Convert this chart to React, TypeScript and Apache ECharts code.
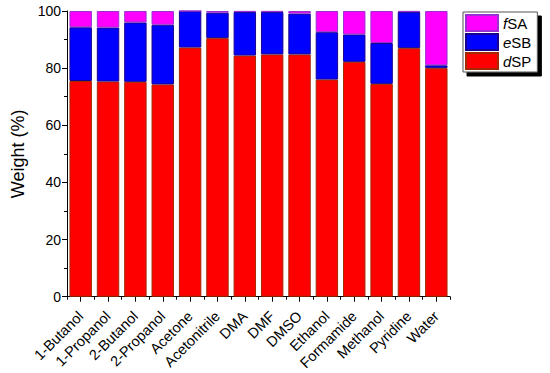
import React, { useEffect, useRef } from "react";
import * as echarts from "echarts";

const categories = [
  "1-Butanol", "1-Propanol", "2-Butanol", "2-Propanol", "Acetone", "Acetonitrile",
  "DMA", "DMF", "DMSO", "Ethanol", "Formamide", "Methanol", "Pyridine", "Water",
];
const dSP = [75.5, 75.3, 75.2, 74.3, 87.2, 90.5, 84.4, 84.8, 84.8, 76.0, 82.2, 74.5, 87.0, 80.0];
const eSB = [18.8, 18.9, 20.8, 20.9, 12.8, 8.9, 15.3, 14.9, 14.3, 16.6, 9.6, 14.3, 12.7, 1.0];
const fSA = [5.7, 5.8, 4.0, 4.8, 0.0, 0.6, 0.3, 0.3, 0.9, 7.4, 8.2, 11.2, 0.3, 19.0];
const yTicks = [0, 20, 40, 60, 80, 100];

export default function App() {
  const ref = useRef<HTMLDivElement>(null);
  useEffect(() => {
    const chart = echarts.init(ref.current!, null, { renderer: "svg" });
    const font = "'Liberation Sans', Arial, sans-serif";
    chart.setOption({
      animation: false,
      textStyle: { fontFamily: font },
      grid: { left: 67, top: 11, right: 100, bottom: 76 },
      legend: {
        data: ["fSA", "eSB", "dSP"],
        orient: "vertical",
        left: 463,
        top: 12,
        itemWidth: 32,
        itemHeight: 16,
        itemGap: 1,
        padding: [2, 6, 2, 2],
        backgroundColor: "#fff",
        borderColor: "#555",
        borderWidth: 1,
        borderRadius: 0,
        shadowColor: "#000",
        shadowBlur: 0,
        shadowOffsetX: 4,
        shadowOffsetY: 4,
        icon: "rect",
        formatter: (name: string) => `{i|${name.charAt(0)}}{n|${name.slice(1)}}`,
        textStyle: {
          fontFamily: font,
          fontSize: 15,
          color: "#000",
          rich: {
            i: { fontStyle: "italic", fontSize: 15, lineHeight: 16, fontFamily: font, color: "#000" },
            n: { fontSize: 15, lineHeight: 16, fontFamily: font, color: "#000" },
          },
        },
      },
      xAxis: [
        {
          type: "category",
          data: categories,
          axisLine: { show: true, lineStyle: { color: "#000", width: 1 } },
          axisTick: { show: true, interval: 0, alignWithLabel: true, length: 5, lineStyle: { color: "#000" } },
          axisLabel: { interval: 0, rotate: 45, fontSize: 14.5, color: "#000", fontFamily: font, margin: 17 },
        },
        {
          type: "category",
          data: categories,
          position: "bottom",
          axisLine: { show: false },
          axisTick: { show: true, interval: 0, alignWithLabel: false, length: 3, lineStyle: { color: "#000" } },
          axisLabel: { show: false, interval: 0 },
        },
      ],
      yAxis: {
        type: "value",
        min: yTicks[0],
        max: yTicks[yTicks.length - 1],
        interval: 20,
        name: "Weight (%)",
        nameLocation: "middle",
        nameGap: 40,
        nameTextStyle: { fontSize: 18, color: "#000", fontFamily: font },
        axisLine: { show: true, lineStyle: { color: "#000", width: 1 } },
        axisTick: { show: true, length: 5, lineStyle: { color: "#000" } },
        minorTick: { show: true, splitNumber: 2, length: 3, lineStyle: { color: "#000" } },
        splitLine: { show: false },
        axisLabel: { fontSize: 14, color: "#000", fontFamily: font, margin: 6 },
      },
      series: [
        {
          name: "dSP",
          type: "bar",
          stack: "w",
          data: dSP,
          barCategoryGap: "18%",
          itemStyle: { color: "#ff0000", borderColor: "#a32a00", borderWidth: 1 },
        },
        {
          name: "eSB",
          type: "bar",
          stack: "w",
          data: eSB,
          barCategoryGap: "18%",
          itemStyle: { color: "#0000ff", borderColor: "#1a0090", borderWidth: 1 },
        },
        {
          name: "fSA",
          type: "bar",
          stack: "w",
          data: fSA,
          barCategoryGap: "18%",
          itemStyle: { color: "#ff00ff", borderColor: "#9a30d0", borderWidth: 1 },
        },
      ],
    });
    return () => chart.dispose();
  }, []);
  return (
    <div
      ref={ref}
      style={{ position: "absolute", left: 0, top: 0, width: 550, height: 373 }}
    />
  );
}
